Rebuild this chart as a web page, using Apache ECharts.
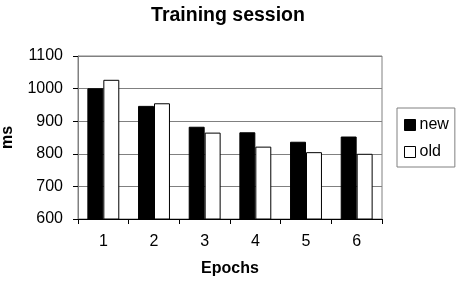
<!DOCTYPE html>
<html>
<head>
<meta charset="utf-8">
<script src="https://cdn.jsdelivr.net/npm/echarts@6/dist/echarts.min.js"></script>
<style>
  html, body { margin: 0; padding: 0; background: #fff; }
  #main { width: 456px; height: 288px; }
</style>
</head>
<body>
<div id="main"></div>
<script>
// data
var epochs = ['1', '2', '3', '4', '5', '6'];
var newMs = [1001, 947, 883, 866, 837, 853];
var oldMs = [1027, 955, 865, 822, 805, 800];

var font = 'Liberation Sans, Arial, sans-serif';
var chart = echarts.init(document.getElementById('main'), null, { renderer: 'canvas' });

chart.setOption({
  animation: false,
  backgroundColor: '#fff',
  title: {
    text: 'Training session',
    left: 'center',
    top: 1,
    textStyle: { fontFamily: font, fontSize: 19.5, fontWeight: 'bold', color: '#000' }
  },
  legend: {
    orient: 'vertical',
    left: 397,
    top: 108,
    width: 55,
    padding: [9, 6, 7, 7],
    itemWidth: 11,
    itemHeight: 11,
    itemGap: 11,
    itemStyle: { borderColor: '#000', borderWidth: 1 },
    borderColor: '#808080',
    borderWidth: 1,
    icon: 'rect',
    textStyle: { fontFamily: font, fontSize: 16, color: '#000', padding: [0, 0, 0, -1] },
    data: ['new', 'old']
  },
  grid: { left: 78, right: 74, top: 56, bottom: 69, outerBoundsMode: 'none', containLabel: false },
  xAxis: {
    type: 'category',
    data: epochs,
    name: 'Epochs',
    nameLocation: 'middle',
    nameGap: 42,
    nameMoveOverlap: false,
    nameTextStyle: { fontFamily: font, fontSize: 16, fontWeight: 'bold', color: '#000' },
    axisLine: { lineStyle: { color: '#000' } },
    axisTick: { show: true, length: 5, lineStyle: { color: '#000' } },
    axisLabel: { fontFamily: font, fontSize: 16, color: '#000', margin: 15 },
    splitLine: { show: false }
  },
  yAxis: {
    type: 'value',
    min: 600,
    max: 1100,
    interval: 100,
    name: 'ms',
    nameLocation: 'middle',
    nameGap: 62,
    nameMoveOverlap: false,
    nameRotate: 90,
    nameTextStyle: { fontFamily: font, fontSize: 16, fontWeight: 'bold', color: '#000' },
    axisLine: { show: true, lineStyle: { color: '#808080' } },
    axisTick: { show: true, length: 5, lineStyle: { color: '#000' } },
    axisLabel: { fontFamily: font, fontSize: 16, color: '#000', margin: 15, formatter: function (v) { return String(v); } },
    splitLine: { show: true, lineStyle: { color: '#808080', width: 1 } }
  },
  series: [
    {
      name: 'new',
      type: 'bar',
      data: newMs,
      barGap: '0%',
      barCategoryGap: '37%',
      itemStyle: { color: '#000', borderColor: '#000', borderWidth: 1 }
    },
    {
      name: 'old',
      type: 'bar',
      data: oldMs,
      itemStyle: { color: '#fff', borderColor: '#000', borderWidth: 1 }
    }
  ],
  graphic: [
    {
      type: 'rect',
      shape: { x: 78, y: 56, width: 304, height: 163 },
      style: { fill: 'none', stroke: '#808080', lineWidth: 1 },
      silent: true,
      z: -1
    }
  ]
});
</script>
</body>
</html>
